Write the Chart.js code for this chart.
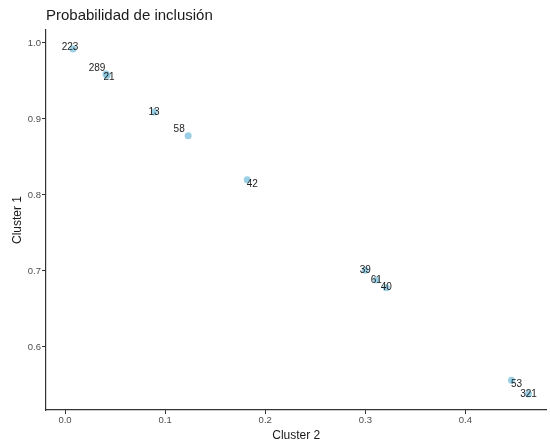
<!DOCTYPE html>
<html>
<head>
<meta charset="utf-8">
<script src="https://cdn.jsdelivr.net/npm/chart.js@4"></script>
<style>
  html, body { margin: 0; padding: 0; background: #fff; }
  #wrap { width: 550px; height: 443px; }
</style>
</head>
<body>
<div id="wrap"><canvas id="chart"></canvas></div>
<script>
// observation ids and their inclusion probabilities
const ids = ['223', '289', '21', '13', '58', '42', '39', '61', '40', '53', '321'];
const cluster2 = [0.008, 0.041, 0.042, 0.089, 0.123, 0.182, 0.300, 0.311, 0.321, 0.446, 0.463];
const cluster1 = [0.992, 0.959, 0.957, 0.909, 0.878, 0.820, 0.701, 0.688, 0.678, 0.556, 0.538];

const xTicks = [0.0, 0.1, 0.2, 0.3, 0.4];
const yTicks = [0.6, 0.7, 0.8, 0.9, 1.0];

const plotTitle = 'Probabilidad de inclusión';

// label nudges in px (like ggrepel pushes them off the point)
const labelNudge = [[-3, -2], [-9, -6], [2, 2], [0, 0], [-9, -6], [5, 5], [0, 0], [0, 0], [0, 0], [5, 4], [0, 0]];

const points = ids.map((id, i) => ({ x: cluster2[i], y: cluster1[i] }));

// draws the id text next to each point
const pointLabels = {
    id: 'pointLabels',
    afterDatasetsDraw(chart) {
        const ctx = chart.ctx;
        const meta = chart.getDatasetMeta(0);
        ctx.save();
        ctx.font = '10px "Liberation Sans", Arial, sans-serif';
        ctx.fillStyle = '#222';
        ctx.textAlign = 'center';
        ctx.textBaseline = 'middle';
        meta.data.forEach((el, i) => {
            ctx.fillText(ids[i], el.x + labelNudge[i][0], el.y + labelNudge[i][1]);
        });
        ctx.restore();
    }
};

// ggplot puts the title flush with the panel, not the canvas edge
const panelTitle = {
    id: 'panelTitle',
    afterDraw(chart) {
        const ctx = chart.ctx;
        ctx.save();
        ctx.font = '15px "Liberation Sans", Arial, sans-serif';
        ctx.fillStyle = '#1a1a1a';
        ctx.textAlign = 'left';
        ctx.textBaseline = 'alphabetic';
        ctx.fillText(plotTitle, chart.chartArea.left, 20);
        ctx.restore();
    }
};

const tickFont = { family: '"Liberation Sans", Arial, sans-serif', size: 9.5 };
const titleFont = { family: '"Liberation Sans", Arial, sans-serif', size: 12 };

new Chart(document.getElementById('chart'), {
    type: 'scatter',
    data: {
        datasets: [{
            data: points,
            backgroundColor: 'rgba(135, 200, 225, 0.85)',
            borderWidth: 0,
            pointRadius: 3.5,
            pointHoverRadius: 3.5
        }]
    },
    options: {
        responsive: true,
        maintainAspectRatio: false,
        animation: false,
        layout: { padding: { left: 10, right: 0, top: 30, bottom: 0 } },
        plugins: {
            legend: { display: false },
            tooltip: { enabled: false },
            title: { display: false }
        },
        scales: {
            x: {
                type: 'linear',
                min: -0.019,
                max: 0.481,
                afterBuildTicks: (scale) => { scale.ticks = xTicks.map(v => ({ value: v })); },
                afterFit: (scale) => { scale.height = 33; },
                ticks: {
                    font: tickFont,
                    color: '#4d4d4d',
                    padding: 1,
                    maxRotation: 0,
                    callback: (v) => v.toFixed(1)
                },
                grid: { drawOnChartArea: false, tickLength: 4, tickColor: '#333', tickWidth: 1 },
                border: { color: '#333', width: 1.2 },
                title: { display: true, text: 'Cluster 2', color: '#1a1a1a', font: titleFont, padding: 0 }
            },
            y: {
                type: 'linear',
                min: 0.517,
                max: 1.017,
                afterBuildTicks: (scale) => { scale.ticks = yTicks.map(v => ({ value: v })); },
                afterFit: (scale) => { scale.width = 36; },
                ticks: {
                    font: tickFont,
                    color: '#4d4d4d',
                    padding: 1,
                    callback: (v) => v.toFixed(1)
                },
                grid: { drawOnChartArea: false, tickLength: 4, tickColor: '#333', tickWidth: 1 },
                border: { color: '#333', width: 1.2 },
                title: { display: true, text: 'Cluster 1', color: '#1a1a1a', font: titleFont, padding: 0 }
            }
        }
    },
    plugins: [pointLabels, panelTitle]
});
</script>
</body>
</html>
